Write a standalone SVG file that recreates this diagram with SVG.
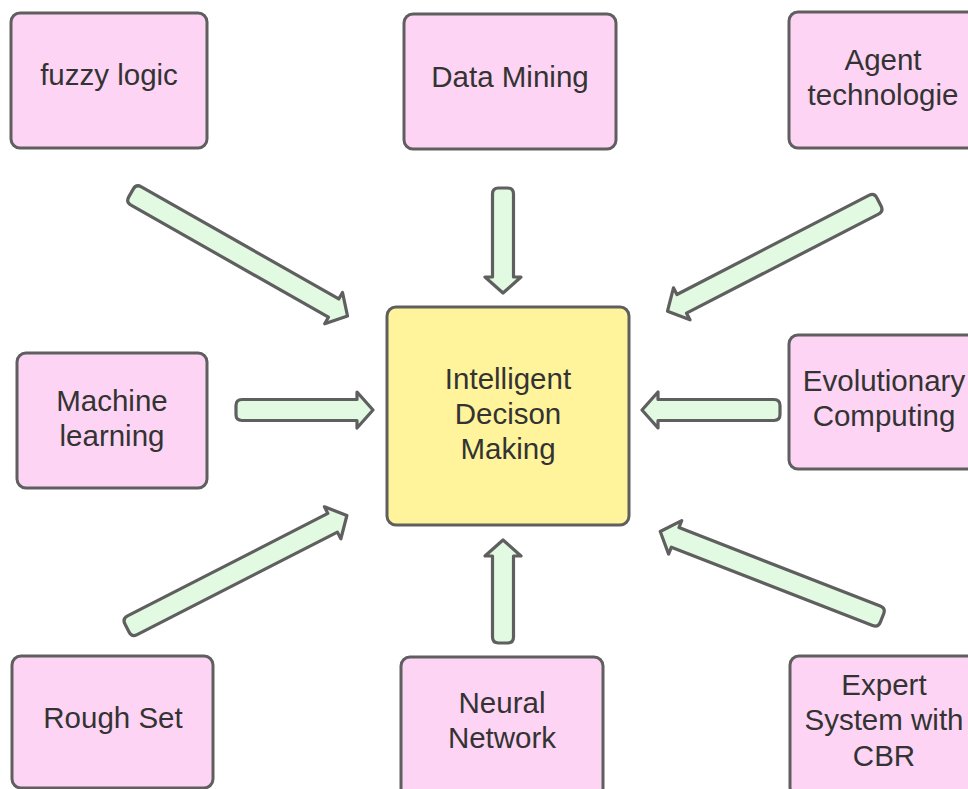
<svg xmlns="http://www.w3.org/2000/svg" width="968" height="789" viewBox="0 0 968 789">
<style>
.box{fill:#fed4f4;stroke:#5f5f5f;stroke-width:3}
.main{fill:#fff49c;stroke:#5f5f5f;stroke-width:3}
.arr{fill:#e2f9e2;stroke:#5f5f5f;stroke-width:3.2;stroke-linejoin:round}
text{font-family:"Liberation Sans",Arial,sans-serif;font-size:29.5px;fill:#333;text-anchor:middle}
</style>
<rect width="968" height="789" fill="#fff"/>
<g id="connectors">
<path class="arr" transform="translate(131,193) rotate(29.6)" d="M6,-10.5 L233,-10.5 L233,-18 L249,0 L233,18 L233,10.5 L6,10.5 Q0,10.5 0,4.5 L0,-4.5 Q0,-10.5 6,-10.5 Z"/>
<path class="arr" transform="translate(503,188) rotate(90)" d="M6,-10.5 L89,-10.5 L89,-18 L105,0 L89,18 L89,10.5 L6,10.5 Q0,10.5 0,4.5 L0,-4.5 Q0,-10.5 6,-10.5 Z"/>
<path class="arr" transform="translate(879,202) rotate(152.7)" d="M6,-10.5 L222,-10.5 L222,-18 L238,0 L222,18 L222,10.5 L6,10.5 Q0,10.5 0,4.5 L0,-4.5 Q0,-10.5 6,-10.5 Z"/>
<path class="arr" transform="translate(236,410)" d="M6,-10.5 L121,-10.5 L121,-18 L137,0 L121,18 L121,10.5 L6,10.5 Q0,10.5 0,4.5 L0,-4.5 Q0,-10.5 6,-10.5 Z"/>
<path class="arr" transform="translate(780,410) rotate(180)" d="M6,-10.5 L122,-10.5 L122,-18 L138,0 L122,18 L122,10.5 L6,10.5 Q0,10.5 0,4.5 L0,-4.5 Q0,-10.5 6,-10.5 Z"/>
<path class="arr" transform="translate(127,628) rotate(-27.1)" d="M6,-10.5 L231,-10.5 L231,-18 L247,0 L231,18 L231,10.5 L6,10.5 Q0,10.5 0,4.5 L0,-4.5 Q0,-10.5 6,-10.5 Z"/>
<path class="arr" transform="translate(503,643) rotate(-90)" d="M6,-10.5 L87,-10.5 L87,-18 L103,0 L87,18 L87,10.5 L6,10.5 Q0,10.5 0,4.5 L0,-4.5 Q0,-10.5 6,-10.5 Z"/>
<path class="arr" transform="translate(882,618) rotate(201.3)" d="M6,-10.5 L222,-10.5 L222,-18 L238,0 L222,18 L222,10.5 L6,10.5 Q0,10.5 0,4.5 L0,-4.5 Q0,-10.5 6,-10.5 Z"/>
</g>
<g id="fuzzy"><rect class="box" x="11" y="13" width="196" height="135" rx="9"/><text x="109" y="85">fuzzy logic</text></g>
<g id="datamining"><rect class="box" x="404" y="14" width="212" height="135" rx="9"/><text x="510" y="87">Data Mining</text></g>
<g id="agent"><rect class="box" x="789" y="12" width="192" height="136" rx="9"/><text x="883" y="70">Agent</text><text x="883" y="105">technologie</text></g>
<g id="ml"><rect class="box" x="17" y="353" width="190" height="135" rx="9"/><text x="112" y="411">Machine</text><text x="112" y="446">learning</text></g>
<g id="center"><rect class="main" x="387" y="307" width="242" height="218" rx="9"/><text x="508" y="389">Intelligent</text><text x="508" y="424">Decison</text><text x="508" y="459">Making</text></g>
<g id="evo"><rect class="box" x="789" y="335" width="192" height="134" rx="9"/><text x="884" y="391">Evolutionary</text><text x="884" y="426">Computing</text></g>
<g id="rough"><rect class="box" x="12" y="656" width="201" height="132" rx="9"/><text x="113" y="728">Rough Set</text></g>
<g id="neural"><rect class="box" x="401" y="657" width="202" height="140" rx="9"/><text x="502" y="713">Neural</text><text x="502" y="748">Network</text></g>
<g id="expert"><rect class="box" x="790" y="656" width="192" height="140" rx="9"/><text x="884" y="695">Expert</text><text x="884" y="730">System with</text><text x="884" y="766">CBR</text></g>
</svg>
